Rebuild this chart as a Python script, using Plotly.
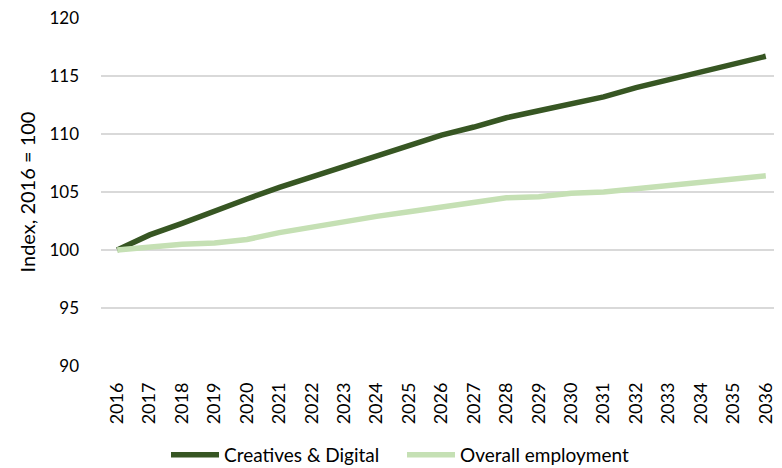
import plotly.graph_objects as go

years = [str(y) for y in range(2016, 2037)]
creatives_digital = [100.0, 101.3, 102.3, 103.4, 104.4, 105.4, 106.3, 107.2, 108.1, 109.0,
                     109.9, 110.6, 111.4, 112.0, 112.6, 113.2, 114.0, 114.7, 115.4, 116.0, 116.7]
overall_employment = [100.0, 100.3, 100.5, 100.6, 100.9, 101.5, 102.0, 102.4, 102.9, 103.3,
                      103.7, 104.2, 104.5, 104.6, 104.9, 105.0, 105.3, 105.6, 105.8, 106.1, 106.4]
y_ticks = [90, 95, 100, 105, 110, 115, 120]

FONT = "Lato, Open Sans, sans-serif"

# page body has an 8px default margin, so the figure is sized to fit inside the window
W, H = 774, 460

fig = go.Figure()
fig.add_trace(go.Scatter(x=years, y=creatives_digital, mode="lines", name="Creatives & Digital",
                         line=dict(color="#375623", width=5.5)))
fig.add_trace(go.Scatter(x=years, y=overall_employment, mode="lines", name="Overall employment",
                         line=dict(color="#C5E0B4", width=5.5)))

fig.update_layout(
    width=W, height=H,
    margin=dict(l=93, r=0, t=10, b=102),
    paper_bgcolor="white", plot_bgcolor="white",
    font=dict(family=FONT, size=16, color="#000000"),
    showlegend=True,
    legend=dict(orientation="h", xref="container", yref="container",
                x=158 / W, xanchor="left", y=13 / H, yanchor="middle",
                font=dict(size=19), traceorder="normal", itemwidth=48,
                entrywidth=173, entrywidthmode="pixels"),
    xaxis=dict(type="category", range=[-0.5, 20.5], tickangle=-90, showgrid=False,
               zeroline=False, showline=False, ticks="", tickfont=dict(size=18),
               automargin=False, ticklabelstandoff=12, ticklabeloverflow="allow"),
    yaxis=dict(range=[90, 120], tickvals=y_ticks, showgrid=True, gridcolor="#D9D9D9",
               gridwidth=1.5, zeroline=False, showline=False, ticks="",
               tickfont=dict(size=17), ticklabelstandoff=21, automargin=False,
               ticklabeloverflow="allow",
               title=dict(text="Index, 2016 = 100", font=dict(size=20), standoff=8)),
)

fig.write_html("out.html")
